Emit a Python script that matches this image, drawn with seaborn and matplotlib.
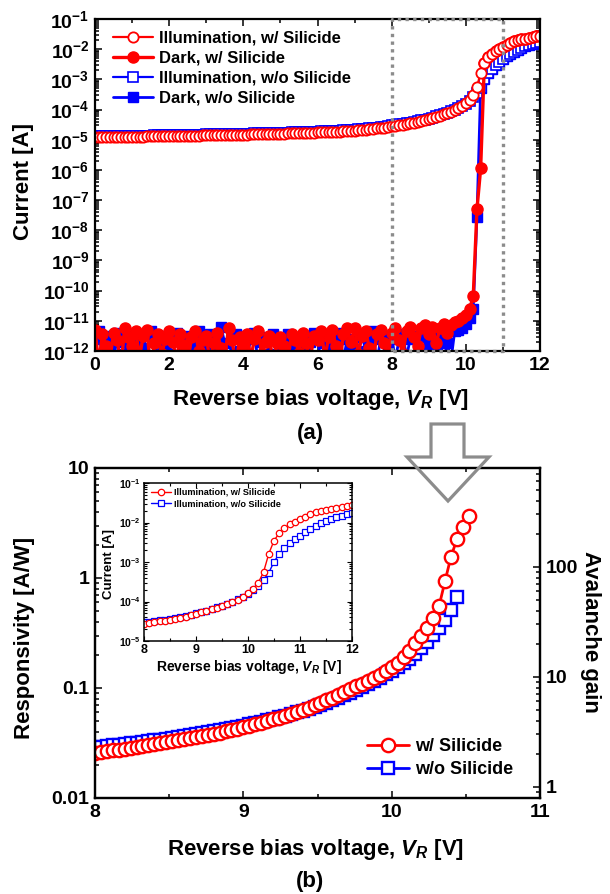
import numpy as np
import matplotlib
matplotlib.use("Agg")
import matplotlib.pyplot as plt
import seaborn as sns
from matplotlib.ticker import LogLocator, MultipleLocator, FuncFormatter, NullFormatter
from matplotlib.patches import Polygon

# ---------------------------------------------------------------- data
# (a) I-V sweep, 0-12 V in 0.1 V steps; currents stored as log10(I [A])
v_sweep = np.linspace(0.0, 12.0, 121)

log_i_illum_w = [
    -4.920, -4.918, -4.916, -4.914, -4.912, -4.910, -4.908, -4.906, -4.904, -4.902,
    -4.900, -4.898, -4.896, -4.894, -4.892, -4.890, -4.888, -4.886, -4.884, -4.882,
    -4.880, -4.878, -4.875, -4.873, -4.870, -4.868, -4.865, -4.863, -4.860, -4.858,
    -4.855, -4.853, -4.850, -4.848, -4.845, -4.843, -4.840, -4.838, -4.835, -4.833,
    -4.830, -4.827, -4.824, -4.821, -4.818, -4.815, -4.812, -4.809, -4.806, -4.803,
    -4.800, -4.796, -4.792, -4.788, -4.784, -4.780, -4.776, -4.772, -4.768, -4.764,
    -4.760, -4.755, -4.750, -4.745, -4.740, -4.735, -4.728, -4.721, -4.714, -4.707,
    -4.700, -4.690, -4.680, -4.668, -4.655, -4.642, -4.628, -4.612, -4.595, -4.577,
    -4.557, -4.540, -4.522, -4.503, -4.484, -4.462, -4.436, -4.410, -4.382, -4.345,
    -4.308, -4.278, -4.242, -4.201, -4.160, -4.116, -4.068, -4.018, -3.952, -3.875,
    -3.790, -3.680, -3.520, -3.250, -2.790, -2.460, -2.270, -2.150, -2.050, -1.980,
    -1.920, -1.850, -1.790, -1.745, -1.705, -1.675, -1.648, -1.622, -1.600, -1.578,
    -1.555,
]

log_i_illum_wo = [
    -4.890, -4.888, -4.886, -4.884, -4.882, -4.880, -4.878, -4.876, -4.874, -4.872,
    -4.870, -4.868, -4.866, -4.864, -4.862, -4.860, -4.858, -4.856, -4.854, -4.852,
    -4.850, -4.848, -4.845, -4.843, -4.840, -4.838, -4.835, -4.833, -4.830, -4.828,
    -4.825, -4.823, -4.820, -4.818, -4.815, -4.813, -4.810, -4.808, -4.805, -4.803,
    -4.800, -4.797, -4.794, -4.791, -4.788, -4.785, -4.782, -4.779, -4.776, -4.773,
    -4.770, -4.766, -4.762, -4.758, -4.754, -4.750, -4.746, -4.742, -4.738, -4.734,
    -4.730, -4.725, -4.720, -4.715, -4.710, -4.705, -4.698, -4.691, -4.684, -4.677,
    -4.670, -4.660, -4.650, -4.638, -4.625, -4.612, -4.598, -4.582, -4.565, -4.547,
    -4.525, -4.512, -4.495, -4.478, -4.460, -4.440, -4.415, -4.388, -4.362, -4.330,
    -4.297, -4.265, -4.228, -4.190, -4.150, -4.105, -4.055, -4.000, -3.947, -3.880,
    -3.805, -3.715, -3.600, -3.450, -3.270, -3.000, -2.790, -2.650, -2.530, -2.420,
    -2.330, -2.240, -2.160, -2.085, -2.015, -1.960, -1.910, -1.865, -1.825, -1.790,
    -1.760,
]

log_i_dark_w = [
    -11.30, -12.40, -11.45, -11.85, -12.30, -11.40, -11.65, -12.50, -11.25, -11.55,
    -11.85, -11.35, -12.20, -11.50, -11.30, -12.60, -11.75, -11.45, -12.10, -11.60,
    -11.35, -11.70, -12.30, -11.45, -11.80, -12.45, -11.55, -11.35, -12.00, -11.65,
    -11.50, -12.35, -11.75, -11.40, -11.90, -12.20, -11.25, -11.65, -12.50, -11.55,
    -11.80, -11.45, -12.25, -11.60, -11.35, -12.10, -11.70, -11.50, -12.40, -11.75,
    -11.55, -11.85, -12.30, -11.45, -11.65, -12.05, -11.40, -11.75, -12.35, -11.50,
    -11.65, -11.35, -12.20, -11.55, -11.30, -11.85, -12.40, -11.45, -11.25, -11.70,
    -11.25, -12.10, -11.50, -11.35, -11.90, -12.30, -11.45, -11.30, -11.75, -12.20,
    -11.40, -11.25, -11.65, -12.10, -11.35, -11.20, -11.55, -11.85, -11.25, -11.15,
    -11.45, -11.20, -11.75, -11.25, -11.10, -11.40, -11.15, -11.05, -11.00, -10.92,
    -10.82, -10.62, -10.18, -7.31, -5.95, -2.460, -2.270, -2.150, -2.050, -1.980,
    -1.920, -1.850, -1.790, -1.745, -1.705, -1.675, -1.648, -1.622, -1.600, -1.578,
    -1.555,
]

log_i_dark_wo = [
    -11.60, -11.35, -12.20, -11.50, -11.80, -12.40, -11.40, -11.70, -12.10, -11.55,
    -11.45, -12.30, -11.60, -11.90, -12.50, -11.35, -11.60, -12.20, -11.50, -11.80,
    -12.10, -11.55, -11.40, -12.40, -11.70, -11.50, -12.20, -11.85, -11.35, -11.60,
    -11.90, -11.45, -12.30, -11.60, -11.20, -11.75, -12.50, -11.55, -11.45, -12.00,
    -11.50, -12.20, -11.60, -11.40, -12.40, -11.70, -11.55, -12.10, -11.45, -11.65,
    -12.30, -11.60, -11.45, -11.90, -12.50, -11.60, -11.50, -12.00, -11.70, -11.40,
    -11.55, -12.40, -11.75, -11.50, -12.10, -11.60, -11.40, -12.30, -11.60, -11.80,
    -12.20, -11.55, -11.45, -12.00, -11.65, -11.35, -12.40, -11.60, -11.50, -11.90,
    -11.55, -12.30, -11.60, -11.45, -12.20, -11.60, -11.50, -12.50, -11.55, -11.40,
    -11.80, -11.45, -12.00, -11.60, -12.30, -11.75, -12.30, -11.35, -11.30, -11.25,
    -11.10, -10.90, -10.60, -7.55, -3.270, -3.000, -2.790, -2.650, -2.530, -2.420,
    -2.330, -2.240, -2.160, -2.085, -2.015, -1.960, -1.910, -1.865, -1.825, -1.790,
    -1.760,
]

# (b) responsivity, 0.04 V steps; stored as log10(R [A/W])
v_resp_w = np.linspace(8.0, 10.52, 64)
log_resp_w = [
    -1.590, -1.583, -1.575, -1.567, -1.560, -1.552, -1.544, -1.536, -1.528, -1.520,
    -1.512, -1.503, -1.494, -1.485, -1.476, -1.467, -1.457, -1.447, -1.437, -1.427,
    -1.416, -1.405, -1.393, -1.381, -1.369, -1.356, -1.343, -1.329, -1.315, -1.300,
    -1.285, -1.269, -1.252, -1.235, -1.217, -1.198, -1.178, -1.157, -1.135, -1.112,
    -1.088, -1.062, -1.036, -1.010, -0.985, -0.960, -0.934, -0.907, -0.879, -0.848,
    -0.812, -0.770, -0.718, -0.660, -0.594, -0.527, -0.452, -0.361, -0.252, -0.027,
    0.194, 0.352, 0.466, 0.567,
]
v_resp_wo = np.linspace(8.0, 10.44, 62)
log_resp_wo = [
    -1.540, -1.534, -1.528, -1.522, -1.516, -1.510, -1.503, -1.497, -1.490, -1.483,
    -1.476, -1.469, -1.462, -1.454, -1.446, -1.438, -1.430, -1.421, -1.412, -1.403,
    -1.394, -1.384, -1.374, -1.364, -1.353, -1.342, -1.331, -1.319, -1.307, -1.294,
    -1.281, -1.267, -1.253, -1.238, -1.222, -1.206, -1.189, -1.171, -1.152, -1.132,
    -1.111, -1.089, -1.066, -1.042, -1.017, -0.991, -0.964, -0.936, -0.907, -0.876,
    -0.844, -0.810, -0.773, -0.733, -0.689, -0.640, -0.585, -0.518, -0.452, -0.382,
    -0.291, -0.176,
]
# responsivity that corresponds to unity avalanche gain [A/W]
unity_gain_resp = 0.0126

labels_a = ["Illumination, w/ Silicide", "Dark, w/ Silicide",
            "Illumination, w/o Silicide", "Dark, w/o Silicide"]
labels_b = ["w/ Silicide", "w/o Silicide"]

# ---------------------------------------------------------------- style
sns.set_theme(style="ticks")
plt.rcParams.update({
    "font.family": ["Liberation Sans", "DejaVu Sans"],
    "font.weight": "bold",
    "axes.labelweight": "bold",
    "mathtext.fontset": "custom",
    "mathtext.rm": "Liberation Sans:bold",
    "mathtext.bf": "Liberation Sans:bold",
    "mathtext.it": "Liberation Sans:bold:italic",
    "axes.edgecolor": "black",
    "xtick.color": "black",
    "ytick.color": "black",
    "text.color": "black",
})

RED = "#ff0000"
BLUE = "#0000ff"
GRAY = "#8c8c8c"
W, H = 610, 894


def fx(x):
    return x / W


def fy(y):
    return 1 - y / H


def decade_fmt(v, _):
    return r"$\mathbf{10^{%d}}$" % int(round(np.log10(v)))


def style_axes(ax, labelsize, major_len=5, minor_len=2.8, right=True):
    ax.tick_params(which="both", direction="in", top=True, right=right,
                   width=1.1, labelsize=labelsize, pad=4)
    ax.tick_params(which="major", length=major_len)
    ax.tick_params(which="minor", length=minor_len)
    for s in ax.spines.values():
        s.set_linewidth(1.6)
        s.set_color("black")


def series(ax, x, y, **kw):
    sns.lineplot(x=x, y=y, ax=ax, sort=False, estimator=None, **kw)
    return ax.lines[-1]


fig = plt.figure(figsize=(W / 100, H / 100), dpi=100)

# ---------------------------------------------------------------- panel (a)
ax1 = fig.add_axes([fx(95), fy(351), 445 / W, 332 / H])
ax1.set_yscale("log")

i_dark_wo = 10 ** np.array(log_i_dark_wo)
i_illum_wo = 10 ** np.array(log_i_illum_wo)
i_dark_w = 10 ** np.array(log_i_dark_w)
i_illum_w = 10 ** np.array(log_i_illum_w)

h_dwo = series(ax1, v_sweep, i_dark_wo, color=BLUE, lw=2.0, marker="s", ms=6.5,
               mfc=BLUE, mec=BLUE, mew=1.0, label=labels_a[3])
h_iwo = series(ax1, v_sweep, i_illum_wo, color=BLUE, lw=1.6, marker="s", ms=6.5,
               mfc="white", mec=BLUE, mew=1.2, label=labels_a[2])
h_dw = series(ax1, v_sweep, i_dark_w, color=RED, lw=2.4, marker="o", ms=8.0,
              mfc=RED, mec=RED, mew=1.0, label=labels_a[1])
h_iw = series(ax1, v_sweep, i_illum_w, color=RED, lw=1.6, marker="o", ms=7.4,
              mfc="white", mec=RED, mew=1.3, label=labels_a[0])

ax1.set_xlim(0, 12)
ax1.set_ylim(1e-12, 1e-1)
ax1.xaxis.set_major_locator(MultipleLocator(2))
ax1.xaxis.set_minor_locator(MultipleLocator(1))
ax1.yaxis.set_major_locator(LogLocator(base=10, numticks=20))
ax1.yaxis.set_minor_locator(LogLocator(base=10, subs=np.arange(2, 10), numticks=20))
ax1.yaxis.set_major_formatter(FuncFormatter(decade_fmt))
ax1.yaxis.set_minor_formatter(NullFormatter())
ax1.set_xlabel("")
ax1.set_ylabel("")
style_axes(ax1, 14)

# zoom window marking the 8-11 V region
ax1.plot([8, 8, 11, 11, 8], [1e-12, 1e-1, 1e-1, 1e-12, 1e-12], color=GRAY,
         lw=2.4, ls=(0, (1.0, 1.3)), clip_on=False, zorder=20)

leg1 = ax1.legend([h_iw, h_dw, h_iwo, h_dwo], labels_a, loc="upper left",
                  bbox_to_anchor=(0.04, 0.965), frameon=False, fontsize=12,
                  handlelength=2.4, handletextpad=0.4, labelspacing=0.3,
                  borderpad=0, borderaxespad=0)
for t in leg1.get_texts():
    t.set_fontweight("bold")

xlabel_txt = r"Reverse bias voltage, $V_R$ [V]"
fig.text(fx(23), fy(182), "Current [A]", rotation=90, ha="center", va="center",
         fontsize=16, fontweight="bold")
fig.text(fx(320), fy(400), xlabel_txt, ha="center", va="center", fontsize=16,
         fontweight="bold")
fig.text(fx(310), fy(433), "(a)", ha="center", va="center", fontsize=16,
         fontweight="bold")

# ---------------------------------------------------------------- panel (b)
ax2 = fig.add_axes([fx(95), fy(798), 445 / W, 330 / H])
ax2.set_yscale("log")
resp_wo = 10 ** np.array(log_resp_wo)
resp_w = 10 ** np.array(log_resp_w)
h_bwo = series(ax2, v_resp_wo, resp_wo, color=BLUE, lw=2.0, marker="s", ms=8.6,
               mfc="white", mec=BLUE, mew=1.7, label=labels_b[1])
h_bw = series(ax2, v_resp_w, resp_w, color=RED, lw=2.0, marker="o", ms=9.6,
              mfc="white", mec=RED, mew=1.7, label=labels_b[0])
ax2.set_xlim(8, 11)
ax2.set_ylim(0.01, 10)
ax2.xaxis.set_major_locator(MultipleLocator(1))
ax2.xaxis.set_minor_locator(MultipleLocator(0.5))
ax2.yaxis.set_major_locator(LogLocator(base=10, numticks=10))
ax2.yaxis.set_minor_locator(LogLocator(base=10, subs=np.arange(2, 10), numticks=10))
ax2.yaxis.set_major_formatter(FuncFormatter(lambda v, _: "%g" % v))
ax2.yaxis.set_minor_formatter(NullFormatter())
ax2.set_xlabel("")
ax2.set_ylabel("")
style_axes(ax2, 14, right=False)

ax2r = ax2.twinx()
ax2r.set_yscale("log")
ax2r.set_ylim(0.01 / unity_gain_resp, 10 / unity_gain_resp)
ax2r.yaxis.set_major_locator(LogLocator(base=10, numticks=10))
ax2r.yaxis.set_minor_locator(LogLocator(base=10, subs=np.arange(2, 10), numticks=10))
ax2r.yaxis.set_major_formatter(FuncFormatter(lambda v, _: "%g" % v))
ax2r.yaxis.set_minor_formatter(NullFormatter())
ax2r.tick_params(which="both", direction="in", width=1.1, labelsize=14, pad=4)
ax2r.tick_params(which="major", length=5)
ax2r.tick_params(which="minor", length=2.8)
for s in ax2r.spines.values():
    s.set_linewidth(1.6)
    s.set_color("black")

leg2 = ax2.legend([h_bw, h_bwo], labels_b, loc="lower right",
                  bbox_to_anchor=(0.94, 0.06), frameon=False, fontsize=13,
                  handlelength=2.3, handletextpad=0.35, labelspacing=0.35,
                  borderpad=0, borderaxespad=0)
for t in leg2.get_texts():
    t.set_fontweight("bold")

fig.text(fx(25), fy(638), "Responsivity [A/W]", rotation=90, ha="center",
         va="center", fontsize=16, fontweight="bold")
fig.text(fx(591), fy(632), "Avalanche gain", rotation=270, ha="center",
         va="center", fontsize=16, fontweight="bold")
fig.text(fx(315), fy(850), xlabel_txt, ha="center", va="center", fontsize=16,
         fontweight="bold")
fig.text(fx(310), fy(881), "(b)", ha="center", va="center", fontsize=16,
         fontweight="bold")

# ---------------------------------------------------------------- inset
axin = fig.add_axes([fx(144), fy(641), 208 / W, 158 / H])
axin.set_zorder(10)
axin.set_yscale("log")
sel = v_sweep >= 8.0 - 1e-9
series(axin, v_sweep[sel], i_illum_wo[sel], color=BLUE, lw=1.0, marker="s",
       ms=4.0, mfc="white", mec=BLUE, mew=0.9)
series(axin, v_sweep[sel], i_illum_w[sel], color=RED, lw=1.0, marker="o",
       ms=4.6, mfc="white", mec=RED, mew=0.9)
h_in_w = axin.lines[-1]
h_in_wo = axin.lines[-2]
axin.set_xlim(8, 12)
axin.set_ylim(1e-5, 1e-1)
axin.xaxis.set_major_locator(MultipleLocator(1))
axin.xaxis.set_minor_locator(MultipleLocator(0.5))
axin.yaxis.set_major_locator(LogLocator(base=10, numticks=10))
axin.yaxis.set_minor_locator(LogLocator(base=10, subs=np.arange(2, 10), numticks=10))
axin.yaxis.set_major_formatter(FuncFormatter(decade_fmt))
axin.yaxis.set_minor_formatter(NullFormatter())
axin.set_xlabel("")
axin.set_ylabel("")
axin.tick_params(which="both", direction="in", top=True, right=True,
                 width=0.8, pad=2.5)
axin.tick_params(axis="x", labelsize=9)
axin.tick_params(axis="y", labelsize=7.5)
axin.tick_params(which="major", length=3.5)
axin.tick_params(which="minor", length=2)
for s in axin.spines.values():
    s.set_linewidth(1.1)
    s.set_color("black")
leg3 = axin.legend([h_in_w, h_in_wo], [labels_a[0], labels_a[2]],
                   loc="upper left", bbox_to_anchor=(0.035, 0.97),
                   frameon=False, fontsize=6.6, handlelength=2.2,
                   handletextpad=0.3, labelspacing=0.3, borderpad=0,
                   borderaxespad=0)
for t in leg3.get_texts():
    t.set_fontweight("bold")
fig.text(fx(109), fy(564), "Current [A]", rotation=90, ha="center",
         va="center", fontsize=9.5, fontweight="bold")
fig.text(fx(249), fy(667), xlabel_txt, ha="center", va="center", fontsize=10,
         fontweight="bold")

# ---------------------------------------------------------------- arrow
arrow_px = [(431, 424), (464, 424), (464, 457), (489, 457), (448, 501),
            (407, 457), (431, 457)]
arrow = Polygon([(fx(x), fy(y)) for x, y in arrow_px], closed=True, fill=False,
                edgecolor=GRAY, lw=2.3, transform=fig.transFigure, zorder=30)
fig.add_artist(arrow)

fig.savefig("out.png", dpi=100)
